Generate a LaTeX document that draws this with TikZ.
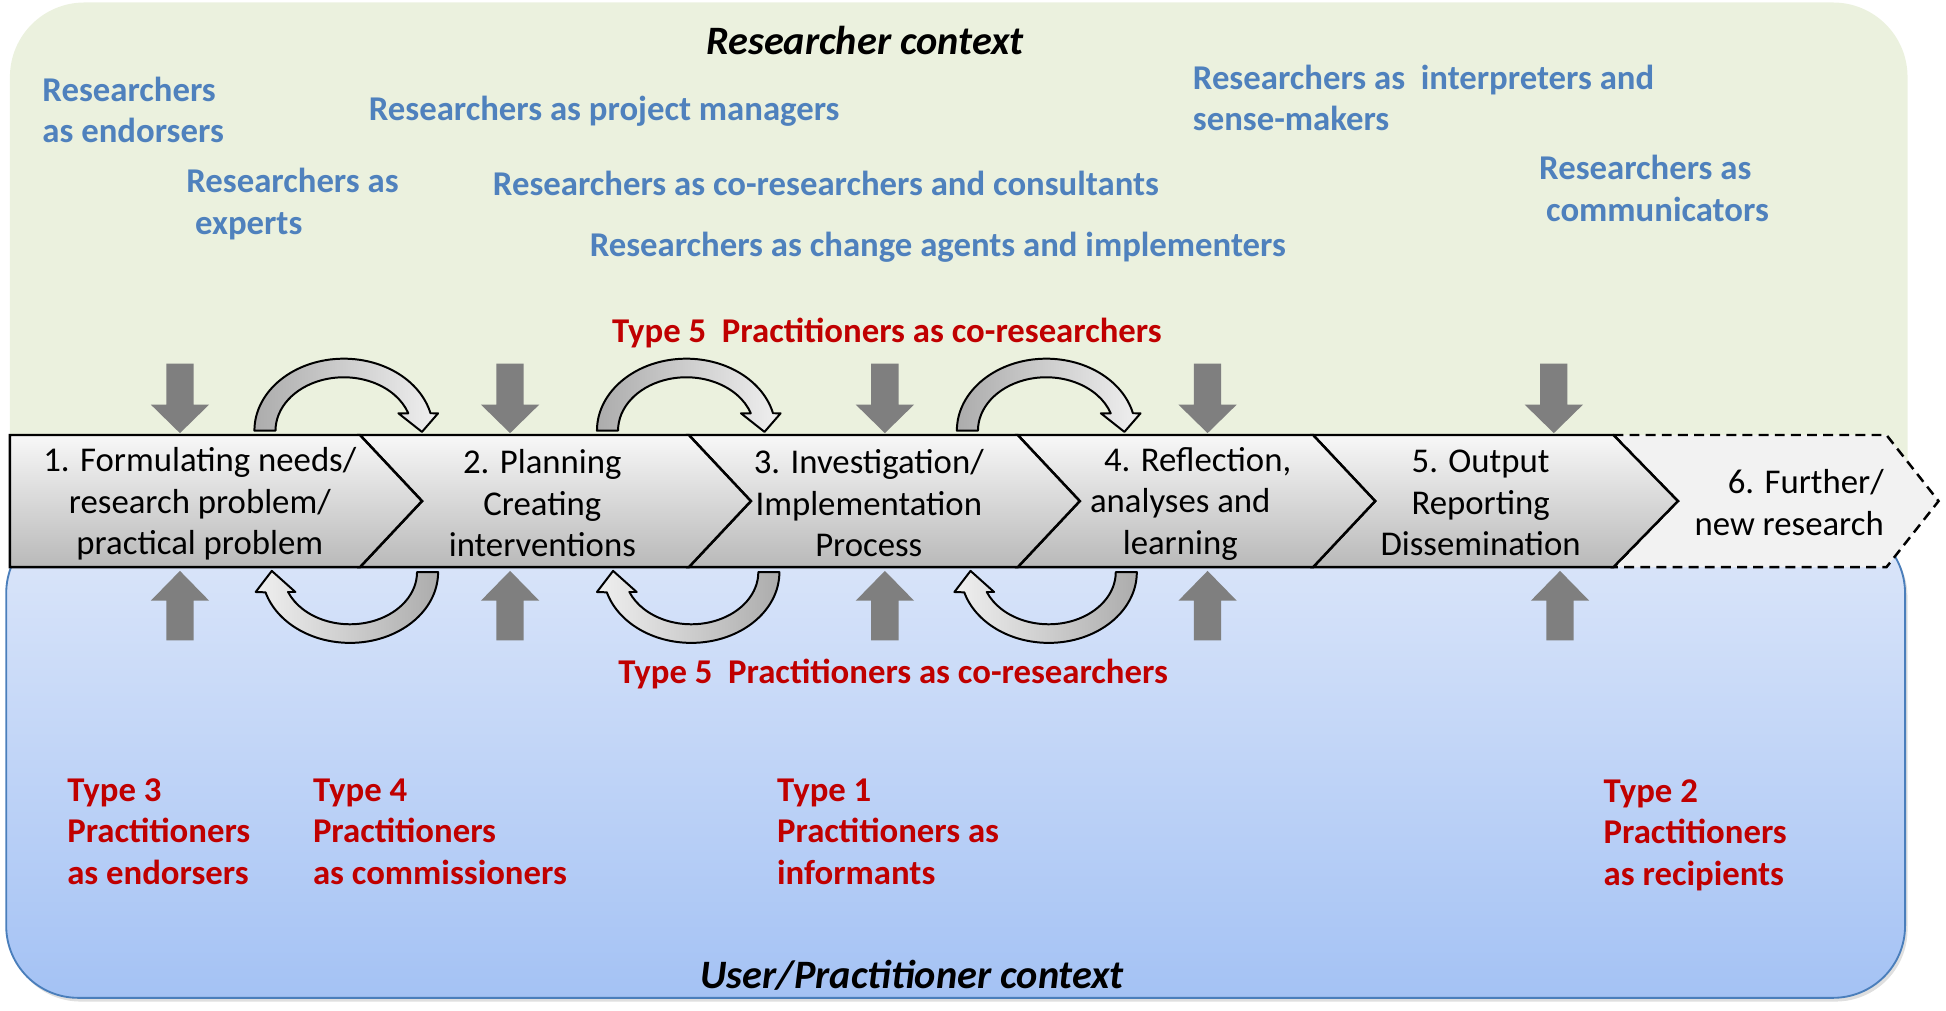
\documentclass[tikz,border=0pt]{standalone}
\usepackage{fontspec}
\setmainfont{Carlito}
\usetikzlibrary{shadows}
\definecolor{rtxt}{HTML}{4F81BD}
\definecolor{ptxt}{HTML}{C00000}
\definecolor{greenbg}{HTML}{EBF1DE}
\definecolor{bluetop}{HTML}{DDE7FA}
\definecolor{bluebot}{HTML}{A4C2F4}
\definecolor{blueline}{HTML}{4A7EBB}
\definecolor{blockgray}{HTML}{7F7F7F}
\tikzset{
  restxt/.style={inner sep=0pt, text=rtxt, font=\fontsize{28}{33.5}\selectfont\bfseries, align=left, anchor=west},
  practxt/.style={restxt, text=ptxt},
  steptxt/.style={inner sep=0pt, font=\fontsize{28}{33.5}\selectfont, align=center},
  ctxtitle/.style={inner sep=0pt, font=\fontsize{32.5}{38}\selectfont\bfseries\itshape},
  chev/.style={draw=black, line width=2pt, line join=miter, top color=gray!6, bottom color=gray!55},
  blockarrow/.style={fill=blockgray},
  curvup/.style={draw=black, line width=1.6pt, line join=round, left color=gray!65, right color=gray!12},
  curvdown/.style={draw=black, line width=1.6pt, line join=round, left color=gray!12, right color=gray!65},
}
\begin{document}
\begin{tikzpicture}[x=1pt,y=-1pt]
\useasboundingbox (0,0) rectangle (1568,814);
% context boxes
\path[fill=greenbg, rounded corners=60pt] (8,2) rectangle (1537,430);
\path[draw=blueline, line width=1.5pt, top color=bluetop, bottom color=bluebot, rounded corners=58pt,
      drop shadow={opacity=0.25, shadow xshift=2pt, shadow yshift=-3pt}] (5,420) rectangle (1535,804);
% process band
\path[draw=black, line width=2pt, dash pattern=on 8pt off 5pt, fill=gray!10] (1300,350.5) -- (1520,350.5) -- (1562,403.75) -- (1520,457) -- (1300,457) -- (1352,403.75) -- cycle;
\path[chev] (1058,350.5) -- (1300,350.5) -- (1352,403.75) -- (1300,457) -- (1058,457) -- (1108,403.75) -- cycle;
\path[chev] (820,350.5) -- (1058,350.5) -- (1108,403.75) -- (1058,457) -- (820,457) -- (870,403.75) -- cycle;
\path[chev] (555,350.5) -- (820,350.5) -- (870,403.75) -- (820,457) -- (555,457) -- (605,403.75) -- cycle;
\path[chev] (290,350.5) -- (555,350.5) -- (605,403.75) -- (555,457) -- (290,457) -- (340,403.75) -- cycle;
\path[chev] (8,350.5) -- (290,350.5) -- (340,403.75) -- (290,457) -- (8,457) -- cycle;
\node[steptxt] (s1) at (161,406) {1. Formulating needs/\\research problem/\\practical problem};
\node[steptxt] (s2) at (437,405.5) {2. Planning\\Creating\\interventions};
\node[steptxt] (s3) at (700,405.5) {3. Investigation/\\Implementation\\Process};
\node[steptxt] (s4) at (951,406) {\hspace*{1em}4. Reflection,\\analyses and\\learning};
\node[steptxt] (s5) at (1193,405.5) {5. Output\\Reporting\\Dissemination};
\node[steptxt, align=right, anchor=east] (s6) at (1518,405) {6. Further/\\new research};
% block arrows
\foreach \cx in {145,411,713,973,1252} {
  \fill[blockarrow] (\cx-11,293) -- (\cx+11,293) -- (\cx+11,326) -- (\cx+23.5,326) -- (\cx,349) -- (\cx-23.5,326) -- (\cx-11,326) -- cycle;
}
\foreach \cx in {145,411,713,973,1257} {
  \fill[blockarrow] (\cx,460) -- (\cx+23.5,484) -- (\cx+11,484) -- (\cx+11,516) -- (\cx-11,516) -- (\cx-11,484) -- (\cx-23.5,484) -- cycle;
}
% curved arrows
\foreach \s in {0,276,566} {
  \begin{scope}[xshift=\s pt]
    \path[curvup] (205,347) arc[start angle=180, end angle=346, x radius=72, y radius=58]
      -- (353,333) -- (340,348) -- (321,333) -- (329,333)
      arc[start angle=341, end angle=180, x radius=55, y radius=43] -- cycle;
  \end{scope}
}
\foreach \s in {0,275,563} {
  \begin{scope}[xshift=\s pt]
    \path[curvdown] (353,461) arc[start angle=0, end angle=163.4, x radius=71, y radius=57]
      -- (206,477) -- (219,460) -- (238,477) -- (232.1,477)
      arc[start angle=157.6, end angle=0, x radius=54, y radius=42] -- cycle;
  \end{scope}
}
% titles
\node[ctxtitle] (rc) at (697,33) {Researcher context};
\node[ctxtitle] (uc) at (735,786) {User/Practitioner context};
% researcher roles
\node[restxt] (r1) at (34,88.5) {Researchers\\as endorsers};
\node[restxt] (r2) at (150,164.5) {Researchers as\\\hspace*{0.25em}experts};
\node[restxt] (r3) at (297,90) {Researchers as project managers};
\node[restxt] (r4) at (397,148) {Researchers as co-researchers and consultants};
\node[restxt] (r5) at (475,199) {Researchers as change agents and implementers};
\node[restxt] (r6) at (961,79) {Researchers as\ \ interpreters and\\sense-makers};
\node[restxt] (r7) at (1240,152) {Researchers as\\\hspace*{0.2em}communicators};
% practitioner roles
\node[practxt] (p5a) at (493,268) {Type 5\ \ Practitioners as co-researchers};
\node[practxt] (p5b) at (498,543) {Type 5\ \ Practitioners as co-researchers};
\node[practxt] (p3) at (54,670) {Type 3\\Practitioners\\as endorsers};
\node[practxt] (p4) at (252,670) {Type 4\\Practitioners\\as commissioners};
\node[practxt] (p1) at (626,670) {Type 1\\Practitioners as\\informants};
\node[practxt] (p2) at (1292,673) {Type 2\\Practitioners\\as recipients};
\end{tikzpicture}
\end{document}
